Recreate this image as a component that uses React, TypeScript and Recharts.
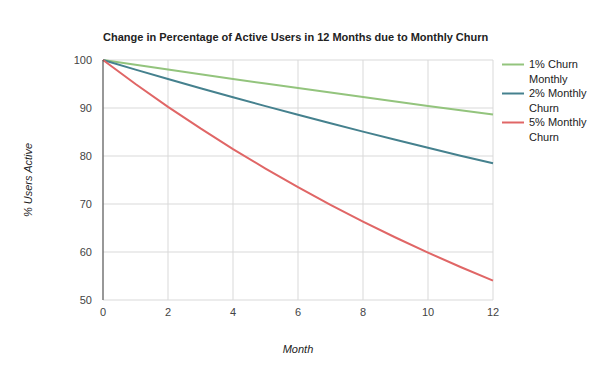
import { LineChart, Line, XAxis, YAxis, CartesianGrid, Legend, Label } from 'recharts';

const months = [0, 1, 2, 3, 4, 5, 6, 7, 8, 9, 10, 11, 12];
const churn1 = [100, 99, 98.01, 97.03, 96.06, 95.1, 94.15, 93.21, 92.27, 91.35, 90.44, 89.53, 88.64];
const churn2 = [100, 98, 96.04, 94.12, 92.24, 90.39, 88.58, 86.81, 85.08, 83.37, 81.71, 80.07, 78.47];
const churn5 = [100, 95, 90.25, 85.74, 81.45, 77.38, 73.51, 69.83, 66.34, 63.02, 59.87, 56.88, 54.04];
const xTicks = [0, 2, 4, 6, 8, 10, 12];
const yTicks = [50, 60, 70, 80, 90, 100];

const series = [
  { key: 'c1', name: '1% Churn Monthly', color: '#93c47d' },
  { key: 'c2', name: '2% Monthly Churn', color: '#45818e' },
  { key: 'c5', name: '5% Monthly Churn', color: '#e06666' },
];

const data = months.map((m, i) => ({ month: m, c1: churn1[i], c2: churn2[i], c5: churn5[i] }));

const font = '"Liberation Sans", Arial, sans-serif';

function LegendBox({ payload }: any) {
  return (
    <div style={{ fontFamily: font, fontSize: 11, color: '#222' }}>
      {(payload || []).map((p: any) => (
        <div key={p.value} style={{ display: 'flex', alignItems: 'flex-start', lineHeight: '14.5px' }}>
          <svg width={27} height={14} style={{ flexShrink: 0 }}>
            <line x1={0} x2={22} y1={7.5} y2={7.5} stroke={p.color} strokeWidth={2} />
          </svg>
          <span style={{ width: 68 }}>{p.value}</span>
        </div>
      ))}
    </div>
  );
}

export default function App() {
  return (
    <div style={{ position: 'absolute', left: 0, top: 0, width: 600, height: 371, background: '#fff', fontFamily: font }}>
      <div style={{ position: 'absolute', left: 103, top: 31, fontSize: 11, fontWeight: 'bold', color: '#222', whiteSpace: 'nowrap' }}>
        Change in Percentage of Active Users in 12 Months due to Monthly Churn
      </div>
      {/* legend reserves ~100px on the right, so the margin is trimmed to keep the plot edge at 493 */}
      <LineChart width={600} height={371} data={data} margin={{ top: 60, right: 7, bottom: 41, left: 0 }}>
        <CartesianGrid stroke="#d9d9d9" />
        <XAxis
          dataKey="month"
          type="number"
          domain={[0, 12]}
          ticks={xTicks}
          axisLine={false}
          tickLine={false}
          height={30}
          tick={{ fontSize: 11, fill: '#444', fontFamily: font }}
        >
          <Label value="Month" position="insideBottom" offset={-23} style={{ fontSize: 11, fontStyle: 'italic', fill: '#222', fontFamily: font }} />
        </XAxis>
        <YAxis
          type="number"
          domain={[50, 100]}
          ticks={yTicks}
          width={103}
          axisLine={{ stroke: '#444' }}
          tickLine={false}
          tickMargin={5}
          tick={{ fontSize: 11, fill: '#444', fontFamily: font }}
        >
          <Label value="% Users Active" angle={-90} position="insideLeft" offset={28} style={{ fontSize: 11, fontStyle: 'italic', fill: '#222', fontFamily: font, textAnchor: 'middle' }} />
        </YAxis>
        <Legend
          layout="vertical"
          verticalAlign="top"
          align="right"
          content={<LegendBox />}
          wrapperStyle={{ left: 502, top: 57, width: 100 }}
        />
        {series.map((s) => (
          <Line
            key={s.key}
            type="linear"
            dataKey={s.key}
            name={s.name}
            stroke={s.color}
            strokeWidth={2}
            dot={false}
            isAnimationActive={false}
          />
        ))}
      </LineChart>
    </div>
  );
}
